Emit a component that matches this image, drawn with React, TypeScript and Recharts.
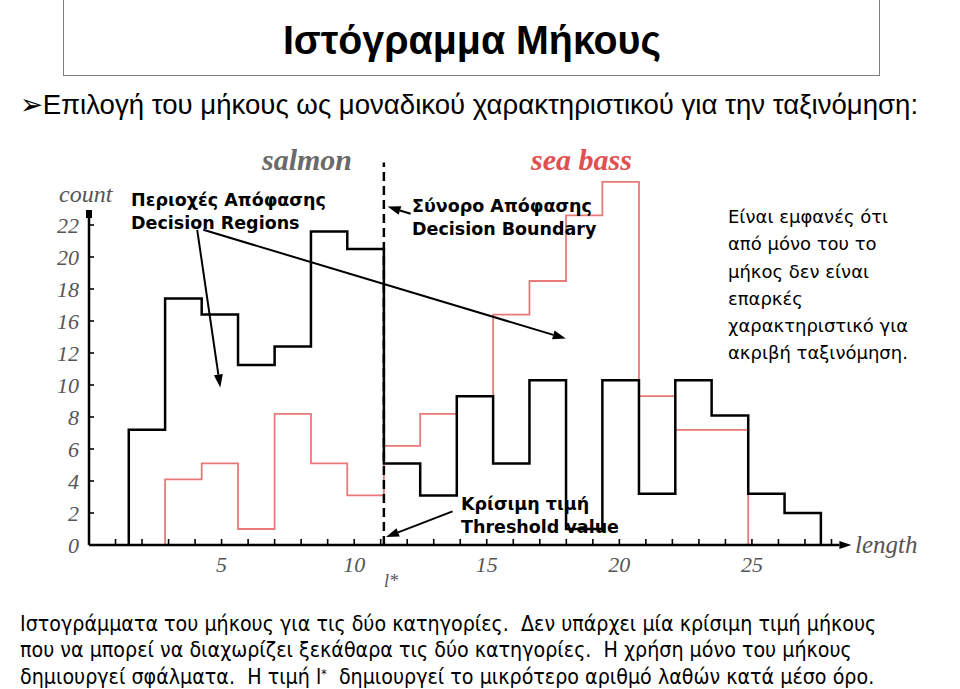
import React from "react";
import { ComposedChart, Line, XAxis, YAxis, ReferenceLine } from "recharts";

// ---- data ----
const binEdges = [1.5, 2.87, 4.25, 5.62, 7.0, 8.37, 9.74, 11.12, 12.49, 13.87, 15.24, 16.61, 17.99, 19.36, 20.74, 22.11, 23.48, 24.86, 26.23, 27.6];
const salmonCounts = [7.2, 15.4, 14.4, 11.25, 12.4, 19.6, 18.5, 5.1, 3.1, 9.3, 5.1, 10.3, 1.0, 10.3, 3.2, 10.3, 8.1, 3.2, 2.0];
const salmonFirstBin = 0;
const seaBassCounts = [4.1, 5.1, 1.0, 8.2, 5.1, 3.1, 6.2, 8.2, 9.3, 14.4, 16.5, 20.6, 22.7, 9.3, 7.2, 7.2];
const seaBassFirstBin = 1;
const yTickPositions = [0, 2, 4, 6, 8, 10, 12, 14, 16, 18, 20];
const yTickLabels = ["0", "2", "4", "6", "8", "10", "12", "16", "18", "20", "22"];
const xTicks = [1, 2, 3, 4, 5, 6, 7, 8, 9, 10, 11, 12, 13, 14, 15, 16, 17, 18, 19, 20, 21, 22, 23, 24, 25, 26, 27, 28];
const xLabelled = [5, 10, 15, 20, 25];
const lStar = 11.12;

// annotation arrows [from, to] in chart coordinates (length, count-position)
const arrows = [
  { from: { x: 4.08, y: 19.7 }, to: { x: 4.95, y: 9.85 } },
  { from: { x: 4.31, y: 19.7 }, to: { x: 17.98, y: 12.9 } },
  { from: { x: 12.13, y: 20.7 }, to: { x: 11.26, y: 21.15 } },
  { from: { x: 13.71, y: 2.1 }, to: { x: 11.2, y: 0.5 } },
];

function histogramSteps(edges: number[], counts: number[], first: number) {
  const pts = [{ x: edges[first], y: 0 }];
  counts.forEach((c, i) => pts.push({ x: edges[first + i], y: c }));
  pts.push({ x: edges[first + counts.length], y: 0 });
  return pts;
}

const salmonData = histogramSteps(binEdges, salmonCounts, salmonFirstBin);
const seaBassData = histogramSteps(binEdges, seaBassCounts, seaBassFirstBin);

const serifLabel: React.CSSProperties = {
  fontFamily: "'Liberation Serif', 'DejaVu Serif', serif",
  fontStyle: "italic",
};

const XTick = (props: any) => {
  const { x, y, payload } = props;
  const v = payload.value;
  return (
    <g>
      <line x1={x} y1={y} x2={x} y2={y - 6} stroke="#000" strokeWidth={1.6} />
      {xLabelled.includes(v) && (
        <text x={x} y={y + 27} textAnchor="middle" fontSize={22} fill="#555" style={serifLabel}>
          {v}
        </text>
      )}
    </g>
  );
};

const YTick = (props: any) => {
  const { x, y, payload } = props;
  const i = yTickPositions.indexOf(payload.value);
  return (
    <g>
      <line x1={x} y1={y} x2={x + 5} y2={y} stroke="#000" strokeWidth={1.6} />
      <text x={x - 10} y={y} dy="0.35em" textAnchor="end" fontSize={22} fill="#555" style={serifLabel}>
        {yTickLabels[i]}
      </text>
    </g>
  );
};

const arrowShape = (headLen: number, headHalf: number, width: number) => (p: any) => {
  const { x1, y1, x2, y2 } = p;
  const ang = Math.atan2(y2 - y1, x2 - x1);
  const bx = x2 - headLen * Math.cos(ang);
  const by = y2 - headLen * Math.sin(ang);
  const nx = -Math.sin(ang) * headHalf;
  const ny = Math.cos(ang) * headHalf;
  return (
    <g>
      <line x1={x1} y1={y1} x2={bx} y2={by} stroke="#000" strokeWidth={width} />
      <polygon points={`${x2},${y2} ${bx + nx},${by + ny} ${bx - nx},${by - ny}`} fill="#000" />
    </g>
  );
};

const yAxisShape = (p: any) => {
  const { x1, y1, x2, y2 } = p;
  return (
    <g>
      <line x1={x1} y1={y1} x2={x2} y2={y2} stroke="#000" strokeWidth={2.5} />
      <rect x={x2 - 3} y={y2 - 3} width={6} height={8} fill="#000" />
    </g>
  );
};

const abs = (left: number, top: number, extra: React.CSSProperties = {}): React.CSSProperties => ({
  position: "absolute",
  left,
  top,
  whiteSpace: "nowrap",
  margin: 0,
  ...extra,
});

const boldSans: React.CSSProperties = {
  fontFamily: "'DejaVu Sans', Verdana, sans-serif",
  fontWeight: 700,
  fontSize: 17.5,
  lineHeight: "23px",
  color: "#000",
};

export default function App() {
  return (
    <div
      style={{
        position: "absolute",
        left: 0,
        top: 0,
        width: 960,
        height: 689,
        background: "#fff",
        overflow: "hidden",
      }}
    >
      {/* title box */}
      <div
        style={{
          position: "absolute",
          left: 63,
          top: -1,
          width: 817,
          height: 77,
          border: "1.5px solid #7f7f7f",
          boxSizing: "border-box",
          display: "flex",
          alignItems: "center",
          justifyContent: "center",
          paddingTop: 6,
        }}
      >
        <span
          style={{
            fontFamily: "'Liberation Sans', Arial, sans-serif",
            fontWeight: 700,
            fontSize: 41,
            display: "inline-block",
            transform: "scaleX(0.96)",
          }}
        >
          Ιστόγραμμα Μήκους
        </span>
      </div>

      {/* bullet line */}
      <div
        style={abs(20, 89, {
          fontFamily: "'Liberation Sans', Arial, sans-serif",
          fontSize: 28,
          lineHeight: "32px",
          transform: "scaleX(0.985)",
          transformOrigin: "left center",
        })}
      >
        ➢Επιλογή του μήκους ως μοναδικού χαρακτηριστικού για την ταξινόμηση:
      </div>

      <ComposedChart
        width={960}
        height={689}
        margin={{ top: 161, right: 102, bottom: 104, left: 29 }}
        style={{ position: "absolute", left: 0, top: 0 }}
      >
        <XAxis
          type="number"
          dataKey="x"
          domain={[0, 29]}
          ticks={xTicks}
          interval={0}
          axisLine={false}
          tickLine={false}
          tickSize={0}
          tickMargin={0}
          tick={<XTick />}
          height={40}
          allowDataOverflow
        />
        <YAxis
          type="number"
          dataKey="y"
          domain={[0, 24]}
          ticks={yTickPositions}
          interval={0}
          axisLine={false}
          tickLine={false}
          tickSize={0}
          tickMargin={0}
          tick={<YTick />}
          width={60}
          allowDataOverflow
        />
        <Line
          data={seaBassData}
          dataKey="y"
          type="stepAfter"
          stroke="#e67a7a"
          strokeWidth={1.8}
          dot={false}
          activeDot={false}
          isAnimationActive={false}
        />
        <Line
          data={salmonData}
          dataKey="y"
          type="stepAfter"
          stroke="#000"
          strokeWidth={2.5}
          dot={false}
          activeDot={false}
          isAnimationActive={false}
        />
        <ReferenceLine
          segment={[{ x: lStar, y: 0 }, { x: lStar, y: 23.9 }]}
          stroke="#000"
          strokeWidth={2.5}
          strokeDasharray="9 5"
          ifOverflow="visible"
        />
        <ReferenceLine
          segment={[{ x: 0, y: 0 }, { x: 28.75, y: 0 }]}
          ifOverflow="visible"
          shape={arrowShape(12, 4, 2.5)}
        />
        <ReferenceLine
          segment={[{ x: 0, y: 0 }, { x: 0, y: 20.75 }]}
          ifOverflow="visible"
          shape={yAxisShape}
        />
        {arrows.map((a, i) => (
          <ReferenceLine
            key={i}
            segment={[a.from, a.to]}
            ifOverflow="visible"
            shape={arrowShape(13, 4.5, 2)}
          />
        ))}
      </ComposedChart>

      {/* chart captions */}
      <div style={abs(262, 142, { ...serifLabel, fontWeight: 700, fontSize: 30, lineHeight: "36px", color: "#6a6a6a" })}>salmon</div>
      <div style={abs(531, 142, { ...serifLabel, fontWeight: 700, fontSize: 30, lineHeight: "36px", color: "#e24f4f" })}>sea bass</div>
      <div style={abs(59, 180, { ...serifLabel, fontSize: 24, lineHeight: "28px", color: "#555" })}>count</div>
      <div style={abs(855, 530, { ...serifLabel, fontSize: 25, lineHeight: "30px", color: "#555" })}>length</div>
      <div style={abs(384, 569, { ...serifLabel, fontSize: 18, lineHeight: "24px", color: "#555" })}>l*</div>

      {/* annotations */}
      <div style={abs(131, 189, boldSans)}>
        Περιοχές Απόφασης
        <br />
        Decision Regions
      </div>
      <div style={abs(412, 195, boldSans)}>
        Σύνορο Απόφασης
        <br />
        Decision Boundary
      </div>
      <div style={abs(461, 493, boldSans)}>
        Κρίσιμη τιμή
        <br />
        Threshold value
      </div>
      <div
        style={abs(728, 203, {
          fontFamily: "'DejaVu Sans', Verdana, sans-serif",
          fontSize: 18,
          lineHeight: "27.3px",
          color: "#000",
        })}
      >
        Είναι εμφανές ότι
        <br />
        από μόνο του το
        <br />
        μήκος δεν είναι
        <br />
        επαρκές
        <br />
        χαρακτηριστικό για
        <br />
        ακριβή ταξινόμηση.
      </div>

      {/* bottom caption */}
      <div
        style={abs(20, 611, {
          fontFamily: "'DejaVu Sans', Verdana, sans-serif",
          fontSize: 21,
          lineHeight: "26.3px",
          color: "#000",
          transform: "scaleX(0.91)",
          transformOrigin: "left top",
        })}
      >
        Ιστογράμματα του μήκους για τις δύο κατηγορίες.&nbsp; Δεν υπάρχει μία κρίσιμη τιμή μήκους
        <br />
        που να μπορεί να διαχωρίζει ξεκάθαρα τις δύο κατηγορίες.&nbsp; Η χρήση μόνο του μήκους
        <br />
        δημιουργεί σφάλματα.&nbsp; Η τιμή l<span style={{ fontSize: 12, verticalAlign: "6px", lineHeight: 0 }}>*</span>&nbsp; δημιουργεί το μικρότερο αριθμό λαθών κατά μέσο όρο.
      </div>
    </div>
  );
}
